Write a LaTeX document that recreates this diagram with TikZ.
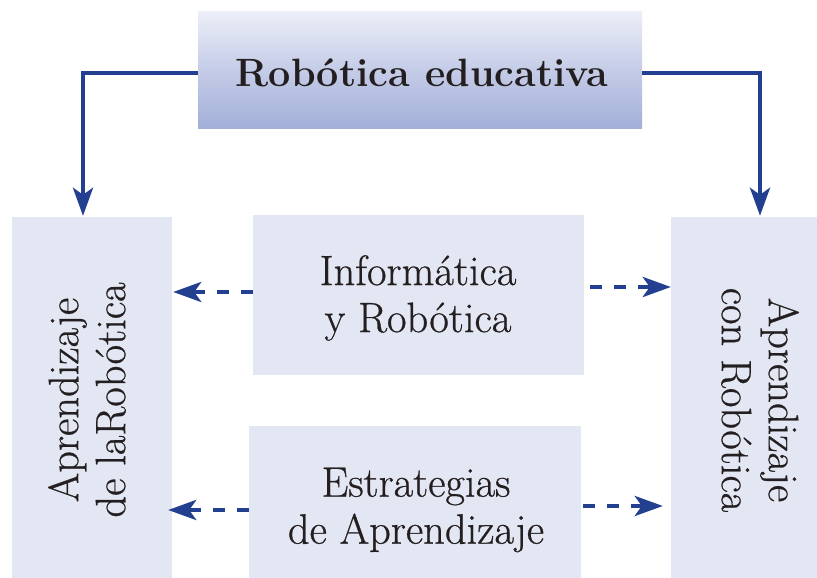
\documentclass[tikz,border=0pt]{standalone}
\usepackage{fontspec}
\newfontfamily\heavylm[FakeBold=0.6]{Latin Modern Roman}
\usetikzlibrary{arrows.meta,calc}
\definecolor{boxfill}{HTML}{E3E6F3}
\definecolor{arrowblue}{HTML}{233F8F}
\definecolor{toplight}{HTML}{ECEEF8}
\definecolor{topdark}{HTML}{A3AFD9}
\definecolor{txt}{HTML}{231F20}
\tikzset{
  box/.style={fill=boxfill, draw=none, inner sep=0pt},
  lbl/.style={text=txt, align=center, font=\heavylm\fontsize{42.5}{47}\selectfont, inner sep=0pt},
  solidarrow/.style={draw=arrowblue, line width=4.2pt, -{Stealth[length=28pt,width=20pt,inset=7pt]}},
  dasharrow/.style={draw=arrowblue, line width=4.2pt, dash pattern=on 12pt off 12pt, -{Stealth[length=28pt,width=20pt,inset=7pt]}}
}
\begin{document}
\begin{tikzpicture}[x=1pt,y=1pt]
\useasboundingbox (0,0) rectangle (817,578);
% boxes
\node[box, minimum width=444pt, minimum height=117pt, shading angle=20,
      top color=toplight, bottom color=topdark, middle color=topdark!55!toplight] (top) at (420,507.5) {};
\node[text=txt, font=\fontsize{39.5}{44}\selectfont\bfseries, inner sep=0pt] (toplbl) at (422,505) {Robótica educativa};
\node[box, minimum width=160pt, minimum height=361pt] (left) at (92,180.5) {};
\node[box, minimum width=146pt, minimum height=361pt] (right) at (744,180.5) {};
\node[box, minimum width=331pt, minimum height=160pt] (mid1) at (418.5,283) {};
\node[box, minimum width=332pt, minimum height=152pt] (mid2) at (415,76) {};
% labels
\node[lbl] (m1lbl) at (418,280) {Informática\\y Robótica};
\node[lbl] (m2lbl) at (416,68) {Estrategias\\de Aprendizaje};
\node[lbl, rotate=90] (llbl) at (87,178) {Aprendizaje\\de laRobótica};
\node[lbl, rotate=-90] (rlbl) at (760,178) {Aprendizaje\\con Robótica};
% solid arrows
\draw[solidarrow] ([yshift=-2.5pt]top.west) -| ([xshift=-9pt,yshift=1pt]left.north);
\draw[solidarrow] ([yshift=-2.5pt]top.east) -| ([xshift=16pt,yshift=1pt]right.north);
% dashed arrows
\coordinate (a1) at ([yshift=3pt]mid1.west);
\coordinate (a2) at ([xshift=6pt,yshift=8pt]mid1.east);
\coordinate (a3) at ([yshift=-8pt]mid2.west);
\coordinate (a4) at ([xshift=2pt,yshift=-4pt]mid2.east);
\draw[dasharrow] (a1) -- ($(a1 -| left.east)+(1,0)$);
\draw[dasharrow] (a2) -- (a2 -| right.west);
\draw[dasharrow] (a3) -- ($(a3 -| left.east)+(-4,0)$);
\draw[dasharrow] (a4) -- ($(a4 -| right.west)+(-8,0)$);
\end{tikzpicture}
\end{document}
